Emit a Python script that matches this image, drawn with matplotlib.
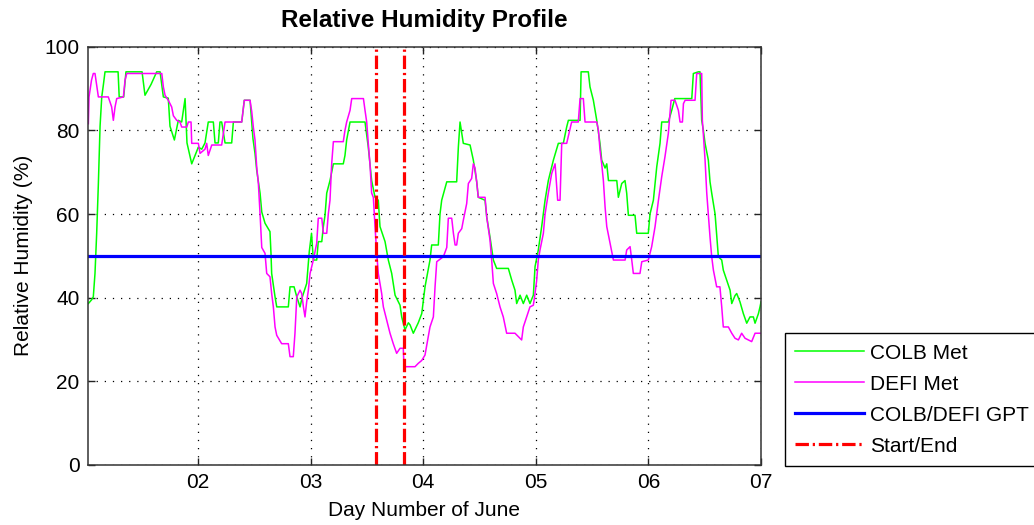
import matplotlib
matplotlib.use('Agg')
import matplotlib.pyplot as plt

plt.rcParams['font.family'] = ['Liberation Sans', 'DejaVu Sans']

# COLB met station relative humidity (day of June, %)
colb_day = [1.026, 1.055, 1.070, 1.085, 1.100, 1.115, 1.130, 1.145, 1.160, 1.174,
            1.290, 1.300, 1.340, 1.360, 1.503, 1.529, 1.583, 1.633, 1.663, 1.692,
            1.736, 1.751, 1.790, 1.825, 1.855, 1.885, 1.902, 1.944, 1.973, 2.003,
            2.033, 2.062, 2.091, 2.136, 2.151, 2.180, 2.195, 2.210, 2.240, 2.299,
            2.314, 2.388, 2.411, 2.462, 2.477, 2.488, 2.506, 2.521, 2.551, 2.566,
            2.595, 2.639, 2.648, 2.654, 2.684, 2.699, 2.802, 2.817, 2.853, 2.877,
            2.906, 2.924, 2.965, 2.988, 3.008, 3.024, 3.054, 3.068, 3.099, 3.113,
            3.128, 3.143, 3.172, 3.202, 3.290, 3.305, 3.320, 3.350, 3.483, 3.512,
            3.542, 3.572, 3.601, 3.616, 3.661, 3.690, 3.720, 3.750, 3.794, 3.809,
            3.838, 3.868, 3.883, 3.912, 3.956, 3.987, 4.016, 4.060, 4.075, 4.134,
            4.149, 4.164, 4.209, 4.297, 4.312, 4.327, 4.356, 4.416, 4.445, 4.475,
            4.489, 4.549, 4.564, 4.593, 4.623, 4.652, 4.756, 4.786, 4.815, 4.830,
            4.860, 4.889, 4.919, 4.948, 4.978, 4.993, 5.022, 5.052, 5.082, 5.111,
            5.156, 5.200, 5.244, 5.274, 5.289, 5.393, 5.402, 5.466, 5.481, 5.511,
            5.541, 5.570, 5.585, 5.615, 5.630, 5.645, 5.719, 5.733, 5.763, 5.792,
            5.807, 5.822, 5.881, 5.896, 5.999, 6.014, 6.044, 6.074, 6.103, 6.118,
            6.177, 6.207, 6.234, 6.385, 6.399, 6.444, 6.458, 6.473, 6.488, 6.503,
            6.532, 6.547, 6.562, 6.592, 6.621, 6.651, 6.665, 6.695, 6.725, 6.740,
            6.769, 6.784, 6.813, 6.843, 6.873, 6.902, 6.932, 6.947, 6.977, 6.991,
            7.000]
colb_rh = [38.6, 39.5, 40.2, 45.8, 55.4, 67.3, 81.0, 88.0, 91.0, 94.0,
           94.0, 88.0, 88.0, 94.0, 94.0, 88.4, 91.0, 94.0, 94.0, 88.0,
           87.7, 81.0, 77.7, 82.4, 82.0, 87.6, 77.0, 72.0, 74.0, 76.0,
           75.5, 77.0, 82.0, 82.0, 77.0, 77.0, 82.0, 82.0, 77.0, 77.0,
           82.0, 82.0, 87.2, 87.2, 82.0, 78.0, 74.5, 70.5, 65.0, 60.5,
           57.8, 55.8, 50.6, 45.8, 40.2, 37.8, 37.8, 42.6, 42.6, 40.2,
           37.8, 40.0, 43.4, 51.0, 55.4, 49.0, 49.0, 53.4, 53.4, 57.0,
           59.7, 65.0, 68.0, 72.0, 72.0, 74.0, 77.7, 82.0, 82.0, 76.0,
           68.0, 64.0, 63.3, 57.0, 53.4, 49.0, 45.8, 40.6, 38.2, 35.4,
           32.3, 34.0, 33.5, 31.5, 34.0, 36.2, 42.6, 49.0, 52.6, 52.6,
           60.0, 63.3, 67.7, 67.7, 76.0, 82.0, 76.9, 76.5, 72.9, 67.7,
           64.0, 63.3, 59.3, 54.5, 49.0, 47.0, 47.0, 44.2, 41.8, 38.6,
           40.6, 38.6, 40.6, 38.6, 40.6, 47.4, 51.4, 57.0, 63.3, 68.0,
           72.9, 76.9, 76.9, 80.8, 82.4, 82.4, 94.0, 94.0, 90.4, 87.2,
           82.4, 76.9, 72.9, 71.0, 72.0, 68.0, 68.0, 64.0, 67.3, 68.0,
           65.0, 59.7, 59.7, 55.4, 55.4, 60.0, 63.3, 71.3, 76.9, 82.0,
           82.0, 84.8, 87.6, 87.6, 93.6, 94.0, 94.0, 82.4, 80.0, 76.9,
           72.9, 67.7, 65.0, 60.0, 49.8, 49.0, 46.6, 44.2, 41.8, 38.6,
           40.5, 41.0, 39.0, 36.2, 33.9, 35.4, 35.4, 33.9, 36.2, 37.8,
           39.0]

# DEFI met station relative humidity (day of June, %)
defi_day = [1.026, 1.032, 1.054, 1.070, 1.085, 1.115, 1.203, 1.233, 1.248, 1.263,
            1.278, 1.337, 1.352, 1.367, 1.678, 1.692, 1.707, 1.736, 1.766, 1.781,
            1.811, 1.840, 1.855, 1.900, 1.914, 1.938, 1.944, 2.003, 2.018, 2.062,
            2.077, 2.091, 2.122, 2.210, 2.240, 2.388, 2.411, 2.462, 2.477, 2.491,
            2.506, 2.521, 2.536, 2.551, 2.566, 2.595, 2.610, 2.639, 2.654, 2.669,
            2.684, 2.699, 2.743, 2.802, 2.817, 2.846, 2.861, 2.877, 2.906, 2.921,
            2.936, 2.950, 2.965, 2.980, 2.995, 3.024, 3.054, 3.068, 3.099, 3.113,
            3.143, 3.157, 3.172, 3.187, 3.202, 3.290, 3.305, 3.320, 3.350, 3.365,
            3.469, 3.483, 3.498, 3.512, 3.527, 3.542, 3.557, 3.572, 3.587, 3.601,
            3.631, 3.646, 3.676, 3.705, 3.734, 3.764, 3.794, 3.823, 3.829, 3.927,
            3.956, 3.987, 4.016, 4.045, 4.060, 4.090, 4.105, 4.120, 4.179, 4.209,
            4.223, 4.253, 4.268, 4.283, 4.297, 4.312, 4.342, 4.356, 4.386, 4.401,
            4.430, 4.445, 4.460, 4.475, 4.489, 4.549, 4.564, 4.593, 4.608, 4.623,
            4.652, 4.682, 4.711, 4.741, 4.815, 4.844, 4.874, 4.889, 4.919, 4.948,
            4.978, 4.993, 5.007, 5.022, 5.037, 5.067, 5.082, 5.111, 5.141, 5.171,
            5.182, 5.194, 5.215, 5.230, 5.274, 5.304, 5.318, 5.377, 5.393, 5.422,
            5.437, 5.541, 5.556, 5.570, 5.585, 5.600, 5.615, 5.630, 5.659, 5.689,
            5.793, 5.807, 5.837, 5.852, 5.866, 5.925, 5.941, 5.999, 6.029, 6.059,
            6.089, 6.118, 6.147, 6.177, 6.201, 6.236, 6.266, 6.281, 6.302, 6.311,
            6.326, 6.414, 6.429, 6.473, 6.479, 6.488, 6.503, 6.518, 6.532, 6.547,
            6.562, 6.577, 6.606, 6.635, 6.651, 6.665, 6.710, 6.740, 6.769, 6.799,
            6.828, 6.858, 6.888, 6.917, 6.947, 7.000]
defi_rh = [81.6, 88.0, 92.0, 93.6, 93.6, 88.0, 88.0, 85.6, 82.4, 85.6,
           87.6, 88.0, 92.0, 93.6, 93.6, 90.4, 88.4, 87.2, 85.6, 83.5,
           82.4, 82.0, 80.8, 80.8, 82.0, 82.0, 76.9, 76.9, 74.5, 75.5,
           76.9, 74.0, 76.5, 76.5, 82.0, 82.0, 87.2, 87.2, 84.5, 80.8,
           77.7, 71.3, 67.3, 60.0, 52.0, 50.6, 45.8, 45.0, 41.0, 37.8,
           33.0, 31.0, 29.0, 29.0, 25.9, 25.9, 31.5, 40.2, 41.8, 41.0,
           37.8, 35.4, 39.0, 41.8, 45.8, 49.0, 53.0, 59.0, 59.0, 55.4,
           55.4, 60.0, 63.3, 72.0, 77.3, 77.3, 80.0, 82.0, 84.8, 87.6,
           87.6, 84.8, 82.0, 76.9, 72.0, 65.0, 64.0, 57.0, 50.6, 45.8,
           41.0, 37.8, 34.6, 31.5, 29.0, 26.7, 27.9, 27.9, 23.5, 23.5,
           24.3, 25.0, 26.3, 30.7, 33.0, 35.4, 42.6, 48.6, 49.8, 52.0,
           59.0, 59.0, 55.4, 52.6, 52.6, 55.4, 56.5, 58.5, 62.5, 67.3,
           68.5, 72.0, 71.0, 67.7, 64.0, 64.0, 59.3, 53.8, 49.0, 43.4,
           41.0, 37.8, 35.4, 31.5, 31.5, 30.7, 29.9, 33.0, 35.4, 37.8,
           38.2, 41.0, 44.0, 49.0, 51.4, 55.4, 60.0, 65.0, 69.7, 72.0,
           68.0, 63.3, 63.3, 76.9, 76.9, 80.4, 82.0, 82.0, 87.6, 87.6,
           82.0, 82.0, 80.0, 75.3, 72.0, 68.0, 61.7, 57.0, 53.0, 49.0,
           49.0, 51.4, 52.2, 49.0, 45.8, 45.8, 48.6, 49.0, 52.2, 57.0,
           63.3, 68.9, 73.7, 79.3, 87.2, 87.2, 84.8, 82.0, 82.0, 86.4,
           87.2, 87.2, 93.6, 93.6, 82.4, 79.0, 72.9, 65.0, 60.0, 54.5,
           49.8, 46.6, 42.6, 42.6, 37.8, 33.0, 33.0, 31.5, 30.3, 29.9,
           31.5, 30.3, 29.9, 29.5, 31.5, 31.5]

gpt_rh = 50                     # COLB/DEFI GPT humidity setting
start_end_day = [3.583, 3.833]  # test start and end
x_ticks = [2, 3, 4, 5, 6, 7]
x_tick_labels = ['02', '03', '04', '05', '06', '07']
y_ticks = [0, 20, 40, 60, 80, 100]

fig = plt.figure(figsize=(10.34, 5.25), dpi=100)
ax = fig.add_axes([0.0849, 0.1143, 0.6511, 0.7967])

ax.plot(colb_day, colb_rh, color='#00ff00', lw=1.1, label='COLB Met')
ax.plot(defi_day, defi_rh, color='#ff00ff', lw=1.1, label='DEFI Met')
ax.axhline(gpt_rh, color='#0000ff', lw=2.3, label='COLB/DEFI GPT')
for i, d in enumerate(start_end_day):
    ln = ax.axvline(d, color='#ff0000', lw=2.3,
                    label='Start/End' if i == 0 else '_nolegend_')
    ln.set_dashes([4.2, 1.2, 0.7, 1.2])

ax.set_xlim(1.021, 7.0)
ax.set_ylim(0, 100)
ax.set_xticks(x_ticks)
ax.set_xticklabels(x_tick_labels)
ax.set_yticks(y_ticks)

ax.grid(True, color='black', linestyle=(0, (1, 5.5)), linewidth=0.9)
ax.set_axisbelow(True)
ax.tick_params(direction='in', length=5, width=1, top=True, right=True,
               labelsize=15, pad=6, colors='#222222', labelcolor='black')
for sp in ax.spines.values():
    sp.set_color('#333333')
    sp.set_linewidth(1.1)

ax.set_title('Relative Humidity Profile', fontsize=17.5, fontweight='bold', pad=14)
ax.set_xlabel('Day Number of June', fontsize=15, labelpad=6)
ax.set_ylabel('Relative Humidity (%)', fontsize=15, labelpad=8)

leg = fig.legend(loc='lower left', bbox_to_anchor=(0.759, 0.112), fontsize=15,
                 handlelength=3.3, handletextpad=0.3, borderpad=0.5,
                 labelspacing=0.58, fancybox=False, framealpha=1,
                 edgecolor='black', borderaxespad=0)
leg.get_frame().set_linewidth(1.0)

fig.savefig('out.png', dpi=100)
